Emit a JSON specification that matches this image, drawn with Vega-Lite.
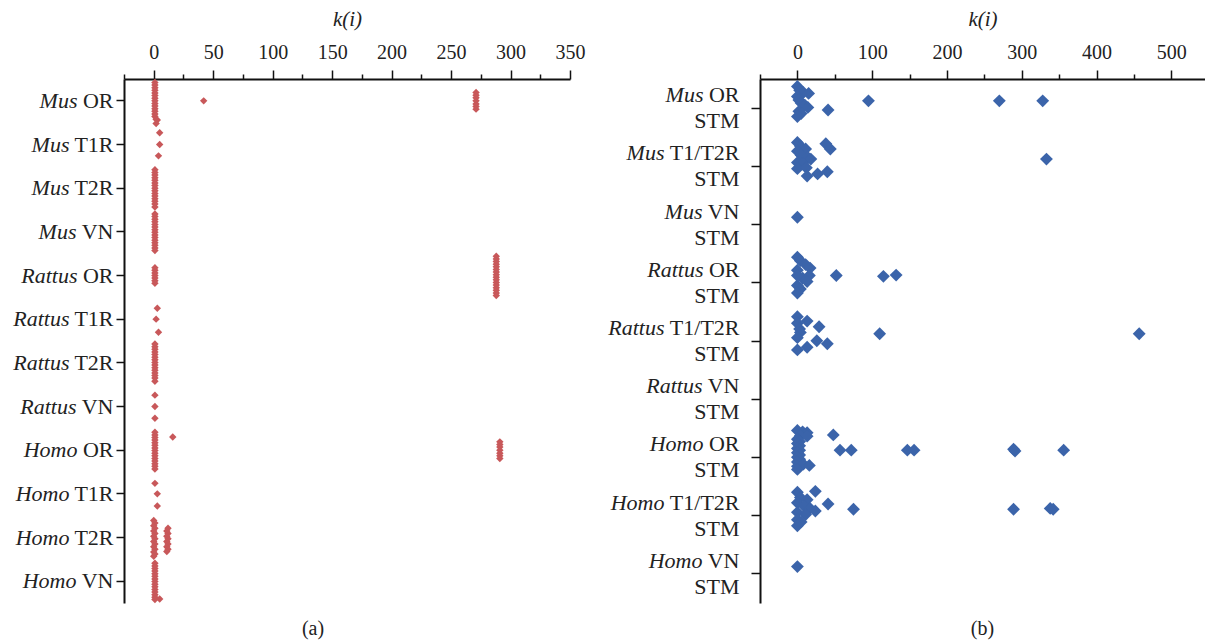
{
"$schema": "https://vega.github.io/schema/vega-lite/v6.json",
"background": "white",
"padding": {"left": 12, "top": 8, "right": 0, "bottom": 0},
"spacing": 22,
"config": {"view": {"stroke": null}, "font": "Liberation Serif",
 "axis": {"grid": false, "domainColor": "#111", "tickColor": "#111", "labelColor": "#222", "titleColor": "#222", "domainWidth": 2, "tickWidth": 1.5, "labelFontSize": 20, "titleFontSize": 21, "titleFontWeight": "normal", "labelOverlap": false, "labelFlush": false}},
"datasets": {
"a": [
{"c":"Mus OR","k":1,"o":-0.42},{"c":"Mus OR","k":1,"o":-0.36},{"c":"Mus OR","k":1,"o":-0.3},{"c":"Mus OR","k":1,"o":-0.24},{"c":"Mus OR","k":1,"o":-0.18},{"c":"Mus OR","k":1,"o":-0.12},{"c":"Mus OR","k":1,"o":-0.06},{"c":"Mus OR","k":1,"o":0},{"c":"Mus OR","k":1,"o":0.06},{"c":"Mus OR","k":1,"o":0.12},{"c":"Mus OR","k":1,"o":0.18},{"c":"Mus OR","k":1,"o":0.24},{"c":"Mus OR","k":1,"o":0.3},{"c":"Mus OR","k":1,"o":0.36},{"c":"Mus OR","k":2,"o":0.42},{"c":"Mus OR","k":3,"o":0.44},{"c":"Mus OR","k":42,"o":0},
{"c":"Mus OR","k":271,"o":-0.19},{"c":"Mus OR","k":271,"o":-0.13},{"c":"Mus OR","k":271,"o":-0.07},{"c":"Mus OR","k":271,"o":0},{"c":"Mus OR","k":271,"o":0.07},{"c":"Mus OR","k":271,"o":0.13},{"c":"Mus OR","k":271,"o":0.19},
{"c":"Mus T1R","k":2,"o":-0.48},{"c":"Mus T1R","k":5,"o":-0.27},{"c":"Mus T1R","k":5,"o":0},{"c":"Mus T1R","k":4,"o":0.26},
{"c":"Mus T2R","k":1,"o":-0.42},{"c":"Mus T2R","k":1,"o":-0.36},{"c":"Mus T2R","k":1,"o":-0.3},{"c":"Mus T2R","k":1,"o":-0.24},{"c":"Mus T2R","k":1,"o":-0.18},{"c":"Mus T2R","k":1,"o":-0.12},{"c":"Mus T2R","k":1,"o":-0.06},{"c":"Mus T2R","k":1,"o":0},{"c":"Mus T2R","k":1,"o":0.06},{"c":"Mus T2R","k":1,"o":0.12},{"c":"Mus T2R","k":1,"o":0.18},{"c":"Mus T2R","k":1,"o":0.24},{"c":"Mus T2R","k":1,"o":0.3},{"c":"Mus T2R","k":1,"o":0.36},{"c":"Mus T2R","k":1,"o":0.43},
{"c":"Mus VN","k":1,"o":-0.41},{"c":"Mus VN","k":1,"o":-0.35},{"c":"Mus VN","k":1,"o":-0.29},{"c":"Mus VN","k":1,"o":-0.23},{"c":"Mus VN","k":1,"o":-0.17},{"c":"Mus VN","k":1,"o":-0.11},{"c":"Mus VN","k":1,"o":-0.05},{"c":"Mus VN","k":1,"o":0.01},{"c":"Mus VN","k":1,"o":0.07},{"c":"Mus VN","k":1,"o":0.13},{"c":"Mus VN","k":1,"o":0.19},{"c":"Mus VN","k":1,"o":0.25},{"c":"Mus VN","k":1,"o":0.31},{"c":"Mus VN","k":1,"o":0.37},{"c":"Mus VN","k":1,"o":0.43},
{"c":"Rattus OR","k":1,"o":-0.18},{"c":"Rattus OR","k":1,"o":-0.12},{"c":"Rattus OR","k":1,"o":-0.06},{"c":"Rattus OR","k":1,"o":0},{"c":"Rattus OR","k":1,"o":0.06},{"c":"Rattus OR","k":1,"o":0.12},{"c":"Rattus OR","k":1,"o":0.18},
{"c":"Rattus OR","k":288,"o":-0.44},{"c":"Rattus OR","k":288,"o":-0.38},{"c":"Rattus OR","k":288,"o":-0.32},{"c":"Rattus OR","k":288,"o":-0.26},{"c":"Rattus OR","k":288,"o":-0.2},{"c":"Rattus OR","k":288,"o":-0.14},{"c":"Rattus OR","k":288,"o":-0.08},{"c":"Rattus OR","k":288,"o":-0.02},{"c":"Rattus OR","k":288,"o":0.04},{"c":"Rattus OR","k":288,"o":0.1},{"c":"Rattus OR","k":288,"o":0.16},{"c":"Rattus OR","k":288,"o":0.22},{"c":"Rattus OR","k":288,"o":0.28},{"c":"Rattus OR","k":288,"o":0.34},{"c":"Rattus OR","k":288,"o":0.4},{"c":"Rattus OR","k":288,"o":0.46},
{"c":"Rattus T1R","k":3,"o":-0.25},{"c":"Rattus T1R","k":2,"o":0},{"c":"Rattus T1R","k":4,"o":0.3},
{"c":"Rattus T2R","k":1,"o":-0.43},{"c":"Rattus T2R","k":1,"o":-0.37},{"c":"Rattus T2R","k":1,"o":-0.31},{"c":"Rattus T2R","k":1,"o":-0.25},{"c":"Rattus T2R","k":1,"o":-0.19},{"c":"Rattus T2R","k":1,"o":-0.13},{"c":"Rattus T2R","k":1,"o":-0.07},{"c":"Rattus T2R","k":1,"o":-0.01},{"c":"Rattus T2R","k":1,"o":0.05},{"c":"Rattus T2R","k":1,"o":0.11},{"c":"Rattus T2R","k":1,"o":0.17},{"c":"Rattus T2R","k":1,"o":0.23},{"c":"Rattus T2R","k":1,"o":0.29},{"c":"Rattus T2R","k":1,"o":0.35},{"c":"Rattus T2R","k":1,"o":0.42},
{"c":"Rattus VN","k":1,"o":-0.26},{"c":"Rattus VN","k":1,"o":0},{"c":"Rattus VN","k":1,"o":0.27},
{"c":"Homo OR","k":1,"o":-0.41},{"c":"Homo OR","k":1,"o":-0.35},{"c":"Homo OR","k":1,"o":-0.29},{"c":"Homo OR","k":1,"o":-0.23},{"c":"Homo OR","k":1,"o":-0.17},{"c":"Homo OR","k":1,"o":-0.11},{"c":"Homo OR","k":1,"o":-0.05},{"c":"Homo OR","k":1,"o":0.01},{"c":"Homo OR","k":1,"o":0.07},{"c":"Homo OR","k":1,"o":0.13},{"c":"Homo OR","k":1,"o":0.19},{"c":"Homo OR","k":1,"o":0.25},{"c":"Homo OR","k":1,"o":0.31},{"c":"Homo OR","k":1,"o":0.37},{"c":"Homo OR","k":1,"o":0.43},{"c":"Homo OR","k":16,"o":-0.3},
{"c":"Homo OR","k":291,"o":-0.19},{"c":"Homo OR","k":291,"o":-0.13},{"c":"Homo OR","k":291,"o":-0.07},{"c":"Homo OR","k":291,"o":0},{"c":"Homo OR","k":291,"o":0.07},{"c":"Homo OR","k":291,"o":0.13},{"c":"Homo OR","k":291,"o":0.19},
{"c":"Homo T1R","k":1,"o":-0.24},{"c":"Homo T1R","k":3,"o":0},{"c":"Homo T1R","k":3,"o":0.28},
{"c":"Homo T2R","k":0,"o":-0.39},{"c":"Homo T2R","k":1,"o":-0.33},{"c":"Homo T2R","k":0,"o":-0.27},{"c":"Homo T2R","k":1,"o":-0.21},{"c":"Homo T2R","k":0,"o":-0.15},{"c":"Homo T2R","k":1,"o":-0.09},{"c":"Homo T2R","k":0,"o":-0.03},{"c":"Homo T2R","k":1,"o":0.03},{"c":"Homo T2R","k":0,"o":0.09},{"c":"Homo T2R","k":1,"o":0.15},{"c":"Homo T2R","k":0,"o":0.21},{"c":"Homo T2R","k":1,"o":0.27},{"c":"Homo T2R","k":0,"o":0.33},{"c":"Homo T2R","k":1,"o":0.38},{"c":"Homo T2R","k":0,"o":0.43},
{"c":"Homo T2R","k":12,"o":-0.21},{"c":"Homo T2R","k":11,"o":-0.15},{"c":"Homo T2R","k":12,"o":-0.09},{"c":"Homo T2R","k":11,"o":-0.03},{"c":"Homo T2R","k":12,"o":0.03},{"c":"Homo T2R","k":11,"o":0.09},{"c":"Homo T2R","k":12,"o":0.15},{"c":"Homo T2R","k":11,"o":0.21},{"c":"Homo T2R","k":12,"o":0.27},{"c":"Homo T2R","k":11,"o":0.32},
{"c":"Homo VN","k":1,"o":-0.41},{"c":"Homo VN","k":1,"o":-0.35},{"c":"Homo VN","k":1,"o":-0.29},{"c":"Homo VN","k":1,"o":-0.23},{"c":"Homo VN","k":1,"o":-0.17},{"c":"Homo VN","k":1,"o":-0.11},{"c":"Homo VN","k":1,"o":-0.05},{"c":"Homo VN","k":1,"o":0.01},{"c":"Homo VN","k":1,"o":0.07},{"c":"Homo VN","k":1,"o":0.13},{"c":"Homo VN","k":1,"o":0.19},{"c":"Homo VN","k":1,"o":0.25},{"c":"Homo VN","k":1,"o":0.31},{"c":"Homo VN","k":1,"o":0.37},{"c":"Homo VN","k":1,"o":0.42},{"c":"Homo VN","k":5,"o":0.41}
],
"b": [
{"c":"Mus OR","k":0,"o":-0.33},{"c":"Mus OR","k":3,"o":-0.24},{"c":"Mus OR","k":8,"o":-0.19},{"c":"Mus OR","k":15,"o":-0.17},{"c":"Mus OR","k":0,"o":-0.1},{"c":"Mus OR","k":2,"o":-0.02},{"c":"Mus OR","k":5,"o":0.05},{"c":"Mus OR","k":10,"o":0.1},{"c":"Mus OR","k":14,"o":0.15},{"c":"Mus OR","k":2,"o":0.24},{"c":"Mus OR","k":5,"o":0.29},{"c":"Mus OR","k":0,"o":0.36},{"c":"Mus OR","k":95,"o":0},{"c":"Mus OR","k":270,"o":0},{"c":"Mus OR","k":328,"o":0},{"c":"Mus OR","k":41,"o":0.21},
{"c":"Mus T1/T2R","k":0,"o":-0.38},{"c":"Mus T1/T2R","k":4,"o":-0.3},{"c":"Mus T1/T2R","k":11,"o":-0.23},{"c":"Mus T1/T2R","k":0,"o":-0.18},{"c":"Mus T1/T2R","k":5,"o":-0.09},{"c":"Mus T1/T2R","k":14,"o":-0.04},{"c":"Mus T1/T2R","k":18,"o":0},{"c":"Mus T1/T2R","k":0,"o":0.08},{"c":"Mus T1/T2R","k":7,"o":0.11},{"c":"Mus T1/T2R","k":0,"o":0.22},{"c":"Mus T1/T2R","k":12,"o":0.2},{"c":"Mus T1/T2R","k":13,"o":0.39},{"c":"Mus T1/T2R","k":27,"o":0.34},{"c":"Mus T1/T2R","k":40,"o":0.29},{"c":"Mus T1/T2R","k":38,"o":-0.35},{"c":"Mus T1/T2R","k":44,"o":-0.23},{"c":"Mus T1/T2R","k":333,"o":0},
{"c":"Mus VN","k":0,"o":0},
{"c":"Rattus OR","k":0,"o":-0.42},{"c":"Rattus OR","k":4,"o":-0.34},{"c":"Rattus OR","k":11,"o":-0.25},{"c":"Rattus OR","k":17,"o":-0.17},{"c":"Rattus OR","k":0,"o":-0.12},{"c":"Rattus OR","k":16,"o":0},{"c":"Rattus OR","k":7,"o":0.06},{"c":"Rattus OR","k":13,"o":0.14},{"c":"Rattus OR","k":0,"o":0.23},{"c":"Rattus OR","k":4,"o":0.31},{"c":"Rattus OR","k":0,"o":0.4},{"c":"Rattus OR","k":0,"o":0},{"c":"Rattus OR","k":52,"o":0},{"c":"Rattus OR","k":115,"o":0.02},{"c":"Rattus OR","k":132,"o":-0.01},
{"c":"Rattus T1/T2R","k":0,"o":-0.39},{"c":"Rattus T1/T2R","k":13,"o":-0.29},{"c":"Rattus T1/T2R","k":0,"o":-0.24},{"c":"Rattus T1/T2R","k":29,"o":-0.16},{"c":"Rattus T1/T2R","k":3,"o":-0.11},{"c":"Rattus T1/T2R","k":4,"o":-0.03},{"c":"Rattus T1/T2R","k":0,"o":0.09},{"c":"Rattus T1/T2R","k":26,"o":0.16},{"c":"Rattus T1/T2R","k":40,"o":0.23},{"c":"Rattus T1/T2R","k":13,"o":0.31},{"c":"Rattus T1/T2R","k":0,"o":0.37},{"c":"Rattus T1/T2R","k":110,"o":0},{"c":"Rattus T1/T2R","k":457,"o":0},
{"c":"Homo OR","k":0,"o":-0.45},{"c":"Homo OR","k":7,"o":-0.42},{"c":"Homo OR","k":13,"o":-0.4},{"c":"Homo OR","k":4,"o":-0.33},{"c":"Homo OR","k":13,"o":-0.32},{"c":"Homo OR","k":0,"o":-0.25},{"c":"Homo OR","k":3,"o":-0.2},{"c":"Homo OR","k":0,"o":-0.15},{"c":"Homo OR","k":3,"o":-0.1},{"c":"Homo OR","k":0,"o":-0.04},{"c":"Homo OR","k":3,"o":0},{"c":"Homo OR","k":0,"o":0.06},{"c":"Homo OR","k":3,"o":0.11},{"c":"Homo OR","k":0,"o":0.16},{"c":"Homo OR","k":3,"o":0.21},{"c":"Homo OR","k":0,"o":0.27},{"c":"Homo OR","k":0,"o":0.37},{"c":"Homo OR","k":8,"o":0.32},{"c":"Homo OR","k":16,"o":0.35},{"c":"Homo OR","k":0,"o":0.44},{"c":"Homo OR","k":48,"o":-0.35},{"c":"Homo OR","k":57,"o":0},{"c":"Homo OR","k":72,"o":0},{"c":"Homo OR","k":147,"o":0},{"c":"Homo OR","k":156,"o":0},{"c":"Homo OR","k":289,"o":-0.02},{"c":"Homo OR","k":291,"o":0.02},{"c":"Homo OR","k":356,"o":0},
{"c":"Homo T1/T2R","k":0,"o":-0.37},{"c":"Homo T1/T2R","k":4,"o":-0.25},{"c":"Homo T1/T2R","k":13,"o":-0.2},{"c":"Homo T1/T2R","k":0,"o":-0.13},{"c":"Homo T1/T2R","k":9,"o":-0.05},{"c":"Homo T1/T2R","k":17,"o":0},{"c":"Homo T1/T2R","k":24,"o":0.06},{"c":"Homo T1/T2R","k":0,"o":0.09},{"c":"Homo T1/T2R","k":11,"o":0.14},{"c":"Homo T1/T2R","k":0,"o":0.26},{"c":"Homo T1/T2R","k":5,"o":0.31},{"c":"Homo T1/T2R","k":0,"o":0.4},{"c":"Homo T1/T2R","k":24,"o":-0.39},{"c":"Homo T1/T2R","k":41,"o":-0.1},{"c":"Homo T1/T2R","k":75,"o":0.02},{"c":"Homo T1/T2R","k":289,"o":0.02},{"c":"Homo T1/T2R","k":338,"o":0},{"c":"Homo T1/T2R","k":342,"o":0.02},
{"c":"Homo VN","k":0,"o":0}
]
},
"hconcat": [
{
 "width": 446, "height": 524,
 "title": {"text": "(a)", "orient": "bottom", "frame": "group", "fontSize": 20, "fontWeight": "normal", "font": "Liberation Serif", "color": "#222", "offset": 16, "dx": -34},
 "data": {"name": "a"},
 "layer": [
  {"mark": {"type": "point", "shape": "diamond", "filled": true, "size": 55, "color": "#C8585A", "opacity": 1},
   "encoding": {
    "x": {"field": "k", "type": "quantitative", "scale": {"domain": [-25, 350], "nice": false, "zero": false},
     "axis": {"orient": "top", "title": "k(i)", "titleFontStyle": "italic", "titlePadding": 13, "values": [0, 50, 100, 150, 200, 250, 300, 350], "tickSize": 9, "labelPadding": 8}},
    "y": {"field": "c", "type": "nominal", "sort": null,
     "scale": {"type": "band", "paddingInner": 0, "paddingOuter": 0, "domain": ["Mus OR", "Mus T1R", "Mus T2R", "Mus VN", "Rattus OR", "Rattus T1R", "Rattus T2R", "Rattus VN", "Homo OR", "Homo T1R", "Homo T2R", "Homo VN"]},
     "axis": {"orient": "left", "title": null, "tickSize": 8, "labelPadding": 3, "labelFontSize": 22, "labelExpr": "slice(datum.value, indexof(datum.value, ' ') + 1)"}},
    "yOffset": {"field": "o", "type": "quantitative", "scale": {"domain": [-0.5, 0.5]}}
   }},
  {"mark": {"type": "point", "opacity": 0},
   "encoding": {
    "x": {"field": "k", "type": "quantitative", "scale": {"domain": [-25, 350], "nice": false, "zero": false},
     "axis": {"orient": "top", "title": null, "labels": false, "domain": false, "tickSize": 5, "values": [-25, 25, 75, 125, 175, 225, 275, 325]}},
    "y": {"field": "c", "type": "nominal", "sort": null,
     "scale": {"type": "band", "paddingInner": 0, "paddingOuter": 0, "domain": ["Mus OR", "Mus T1R", "Mus T2R", "Mus VN", "Rattus OR", "Rattus T1R", "Rattus T2R", "Rattus VN", "Homo OR", "Homo T1R", "Homo T2R", "Homo VN"]},
     "axis": {"orient": "left", "title": null, "domain": false, "ticks": false, "labelFontStyle": "italic", "labelFontSize": 22,
      "labelExpr": "slice(datum.value, 0, indexof(datum.value, ' '))",
      "labelPadding": {"condition": [{"test": "indexof(datum.value, 'OR') >= 0", "value": 47}, {"test": "indexof(datum.value, 'VN') >= 0", "value": 48}], "value": 55}}}
   }}
 ],
 "resolve": {"axis": {"x": "independent", "y": "independent"}}
},
{
 "width": 445, "height": 524,
 "title": {"text": "(b)", "orient": "bottom", "frame": "group", "fontSize": 20, "fontWeight": "normal", "font": "Liberation Serif", "color": "#222", "offset": 16},
 "data": {"name": "b"},
 "layer": [
  {"mark": {"type": "point", "shape": "diamond", "filled": true, "size": 165, "color": "#3B64AA", "opacity": 1},
   "encoding": {
    "x": {"field": "k", "type": "quantitative", "scale": {"domain": [-50, 545], "nice": false, "zero": false},
     "axis": {"orient": "top", "title": "k(i)", "titleFontStyle": "italic", "titlePadding": 13, "values": [0, 100, 200, 300, 400, 500], "tickSize": 9, "labelPadding": 8}},
    "y": {"field": "c", "type": "nominal", "sort": null,
     "scale": {"type": "band", "paddingInner": 0, "paddingOuter": 0, "domain": ["Mus OR", "Mus T1/T2R", "Mus VN", "Rattus OR", "Rattus T1/T2R", "Rattus VN", "Homo OR", "Homo T1/T2R", "Homo VN"]},
     "axis": {"orient": "left", "title": null, "tickSize": 9, "labelPadding": 12, "labelFontSize": 22, "labelLineHeight": 26, "labelOffset": -13, "labelExpr": "[slice(datum.value, indexof(datum.value, ' ') + 1), 'STM']"}},
    "yOffset": {"field": "o", "type": "quantitative", "scale": {"domain": [-0.5, 0.5]}}
   }},
  {"mark": {"type": "point", "opacity": 0},
   "encoding": {
    "x": {"field": "k", "type": "quantitative", "scale": {"domain": [-50, 545], "nice": false, "zero": false},
     "axis": {"orient": "top", "title": null, "labels": false, "domain": false, "tickSize": 5, "values": [-50, 50, 150, 250, 350, 450]}},
    "y": {"field": "c", "type": "nominal", "sort": null,
     "scale": {"type": "band", "paddingInner": 0, "paddingOuter": 0, "domain": ["Mus OR", "Mus T1/T2R", "Mus VN", "Rattus OR", "Rattus T1/T2R", "Rattus VN", "Homo OR", "Homo T1/T2R", "Homo VN"]},
     "axis": {"orient": "left", "title": null, "domain": false, "ticks": false, "labelFontStyle": "italic", "labelFontSize": 22, "labelLineHeight": 26, "labelOffset": -13,
      "labelExpr": "[slice(datum.value, 0, indexof(datum.value, ' ')), '']",
      "labelPadding": {"condition": [{"test": "indexof(datum.value, 'OR') >= 0", "value": 57}, {"test": "indexof(datum.value, 'VN') >= 0", "value": 58}], "value": 96}}}
   }}
 ],
 "resolve": {"axis": {"x": "independent", "y": "independent"}}
}
]
}
